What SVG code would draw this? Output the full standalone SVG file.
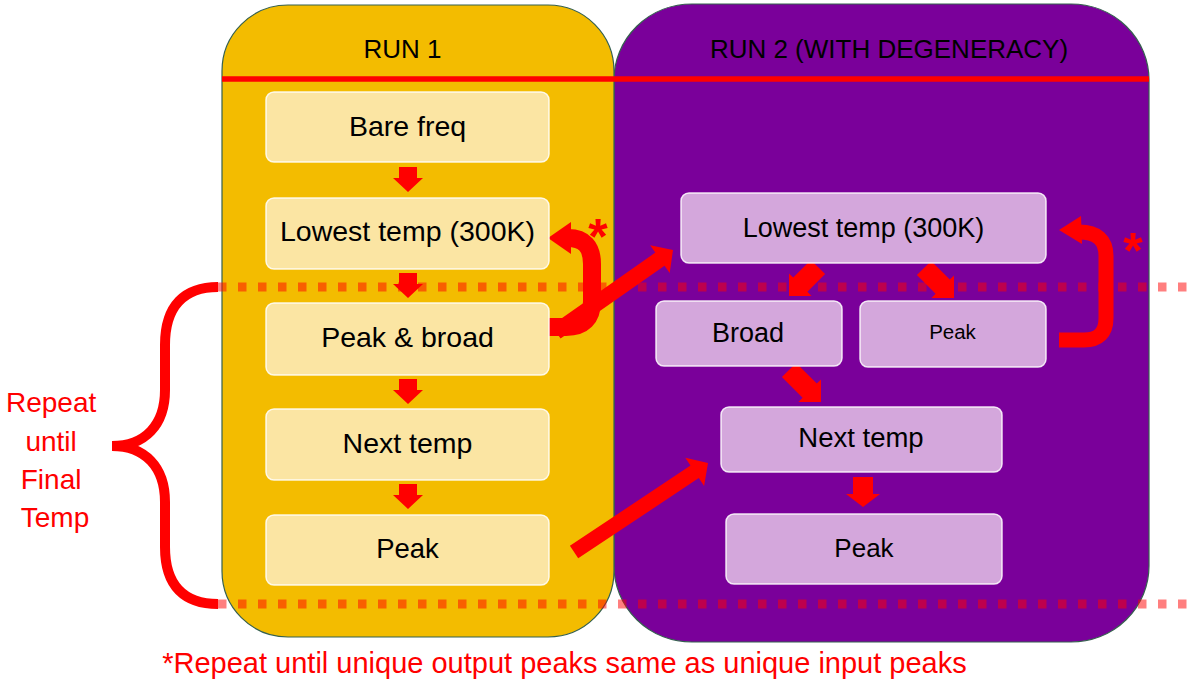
<svg xmlns="http://www.w3.org/2000/svg" width="1187" height="686" viewBox="0 0 1187 686">
  <style>
    .panel { stroke: #35604F; stroke-width: 1.2; }
    .n1 { fill: #FBE5A3; stroke: #FFFFFF; stroke-width: 1.5; stroke-opacity: 0.85; }
    .n2 { fill: #D4A7DC; stroke: #FFFFFF; stroke-width: 1.5; stroke-opacity: 0.85; }
    .t { font-family: "Liberation Sans", Arial, sans-serif; fill: #000000; text-anchor: middle; }
    .red { font-family: "Liberation Sans", Arial, sans-serif; fill: #FF0000; text-anchor: middle; }
    .dots { stroke: #FF0000; stroke-opacity: 0.5; stroke-width: 9; stroke-dasharray: 8.5 11.5; fill: none; }
    .arrow { fill: #FF0000; stroke: none; }
    .loop { fill: none; stroke: #FF0000; }
  </style>
  <defs>
    <path id="vArrow1" d="M-9,0 H9 V11 H15 L0,25 L-15,11 H-9 Z"/>
    <path id="vArrow2" d="M-10,0 H10 V17 H17 L0,30 L-17,17 H-10 Z"/>
  </defs>

  <g id="run2-panel">
    <rect class="panel" x="614" y="4" width="535" height="638" rx="78" ry="76" fill="#7A009A"/>
    <text class="t" x="889" y="58" font-size="26">RUN 2 (WITH DEGENERACY)</text>
  </g>
  <g id="run1-panel">
    <rect class="panel" x="222" y="5" width="392" height="632" rx="66" ry="66" fill="#F3BC00"/>
    <text class="t" x="402.5" y="58" font-size="26">RUN 1</text>
  </g>
  <line x1="222" y1="79" x2="1149" y2="79" stroke="#FF0000" stroke-width="5.5"/>

  <g id="repeat-range">
    <line class="dots" x1="218" y1="287" x2="1187" y2="287"/>
    <line class="dots" x1="218" y1="604" x2="1187" y2="604"/>
    <path d="M218,287 C185,287 165,305 165,345 L165,390 C165,425 145,446 112,446 C145,446 165,467 165,502 L165,547 C165,587 185,604 218,604" fill="none" stroke="#FF0000" stroke-width="10"/>
    <text class="red" font-size="28">
      <tspan x="55" y="412">Repeat</tspan>
      <tspan x="55" y="451">until</tspan>
      <tspan x="55" y="489">Final</tspan>
      <tspan x="55" y="527">Temp</tspan>
    </text>
  </g>

  <g id="connectors">
    <use href="#vArrow1" class="arrow" transform="translate(408,167)"/>
    <use href="#vArrow1" class="arrow" transform="translate(408,273)"/>
    <use href="#vArrow1" class="arrow" transform="translate(408,379)"/>
    <use href="#vArrow1" class="arrow" transform="translate(408,484)"/>
    <use href="#vArrow2" class="arrow" transform="translate(863,477)"/>
    <polygon class="arrow" points="810.9,259.9 793.2,277.6 789,273.4 789,296 811.6,296 807.4,291.8 825.1,274.1"/>
    <polygon class="arrow" points="916.9,275.1 935.6,293.8 931.4,298 954,298 954,275.4 949.8,279.6 931.1,260.9"/>
    <polygon class="arrow" points="781.9,377.1 802.6,397.8 798.4,402 821,402 821,379.4 816.8,383.6 796.1,362.9"/>
    <polygon class="arrow" points="560.6,338.6 664.5,265.7 669.7,273.1 673,250 650.1,245.3 655.3,252.6 551.4,325.5"/>
    <polygon class="arrow" points="578.2,558.3 698.8,478.1 704.1,486.0 708,463 685.3,457.7 690.5,465.6 569.9,545.8"/>
    <path class="loop" stroke-width="18" d="M545,327 H566 Q592,327 592,301 V264 Q592,238 568,238"/>
    <polygon class="arrow" points="548,238 571,222 571,254"/>
    <path class="loop" stroke-width="15" d="M1059,340 H1084 Q1106,340 1106,318 V256 Q1106,232 1079,232"/>
    <polygon class="arrow" points="1059,230 1081,216 1082,244"/>
  </g>

  <text class="red" x="598" y="254" font-size="50" font-weight="bold">*</text>
  <text class="red" x="1133" y="268" font-size="50" font-weight="bold">*</text>

  <g id="r1-bare-freq">
    <rect class="n1" x="266" y="92" width="283" height="70" rx="8"/>
    <text class="t" x="407.5" y="135.5" font-size="28.5">Bare freq</text>
  </g>
  <g id="r1-lowest-temp">
    <rect class="n1" x="266" y="198" width="283" height="71" rx="8"/>
    <text class="t" x="407.5" y="241" font-size="28.5">Lowest temp (300K)</text>
  </g>
  <g id="r1-peak-broad">
    <rect class="n1" x="266" y="303" width="283" height="72" rx="8"/>
    <text class="t" x="407.5" y="347" font-size="28.5">Peak &amp; broad</text>
  </g>
  <g id="r1-next-temp">
    <rect class="n1" x="266" y="409" width="283" height="71" rx="8"/>
    <text class="t" x="407.5" y="453" font-size="28.5">Next temp</text>
  </g>
  <g id="r1-peak">
    <rect class="n1" x="266" y="515" width="283" height="70" rx="8"/>
    <text class="t" x="407.5" y="558" font-size="27.5">Peak</text>
  </g>

  <g id="r2-lowest-temp">
    <rect class="n2" x="681" y="193" width="365" height="70" rx="8"/>
    <text class="t" x="863.5" y="237" font-size="27">Lowest temp (300K)</text>
  </g>
  <g id="r2-broad">
    <rect class="n2" x="656" y="301" width="186" height="65" rx="8"/>
    <text class="t" x="748" y="342" font-size="27">Broad</text>
  </g>
  <g id="r2-peak-small">
    <rect class="n2" x="860" y="301" width="186" height="66" rx="8"/>
    <text class="t" x="952.5" y="339" font-size="20.5">Peak</text>
  </g>
  <g id="r2-next-temp">
    <rect class="n2" x="721" y="407" width="281" height="65" rx="8"/>
    <text class="t" x="861" y="447" font-size="27.5">Next temp</text>
  </g>
  <g id="r2-peak">
    <rect class="n2" x="726" y="514" width="276" height="70" rx="8"/>
    <text class="t" x="864" y="557" font-size="26">Peak</text>
  </g>

  <text class="red" x="564.5" y="673" font-size="29">*Repeat until unique output peaks same as unique input peaks</text>
</svg>
